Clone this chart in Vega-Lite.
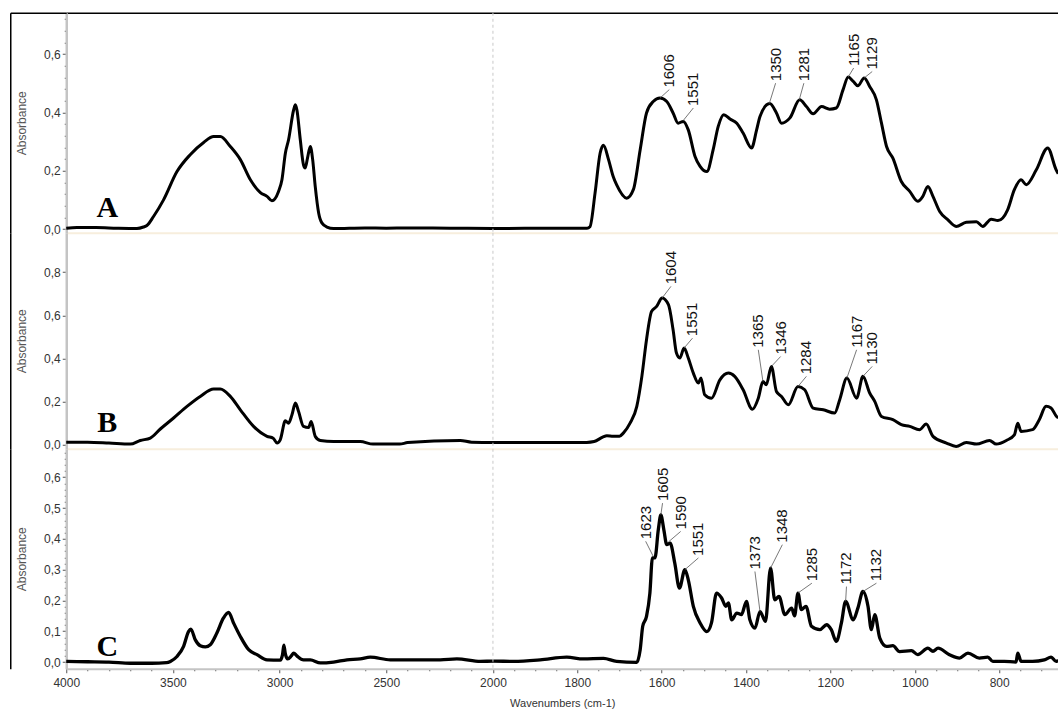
{
  "$schema": "https://vega.github.io/schema/vega-lite/v6.json",
  "autosize": {"type": "pad"},
  "padding": {"left": 9.25, "top": 11.75, "right": 0, "bottom": 0},
  "bounds": "flush",
  "spacing": 0,
  "background": "white",
  "config": {
    "view": {"stroke": null},
    "axis": {
      "labelFont": "Liberation Sans Narrow, Liberation Sans",
      "labelFontSize": 12,
      "labelColor": "#333333",
      "titleFont": "Liberation Sans",
      "titleFontWeight": "normal",
      "grid": false,
      "tickColor": "#555555",
      "domainColor": "#c4c4c4"
    }
  },
  "datasets": {
    "specA": [
      {"wn":4000,"abs":0.003},{"wn":3950,"abs":0.005},{"wn":3860,"abs":0.005},{"wn":3762,"abs":0.003},{"wn":3669,"abs":0.002},{"wn":3638,"abs":0.007},{"wn":3622,"abs":0.012},{"wn":3591,"abs":0.043},{"wn":3544,"abs":0.10},{"wn":3481,"abs":0.197},{"wn":3419,"abs":0.255},{"wn":3356,"abs":0.297},{"wn":3309,"abs":0.317},{"wn":3278,"abs":0.317},{"wn":3231,"abs":0.283},{"wn":3184,"abs":0.238},{"wn":3137,"abs":0.169},{"wn":3090,"abs":0.125},{"wn":3059,"abs":0.112},{"wn":3036,"abs":0.097},{"wn":3005,"abs":0.129},{"wn":2989,"abs":0.169},{"wn":2973,"abs":0.26},{"wn":2958,"abs":0.306},{"wn":2934,"abs":0.409},{"wn":2926,"abs":0.426},{"wn":2919,"abs":0.409},{"wn":2903,"abs":0.306},{"wn":2888,"abs":0.22},{"wn":2880,"abs":0.209},{"wn":2869,"abs":0.244},{"wn":2856,"abs":0.283},{"wn":2845,"abs":0.238},{"wn":2833,"abs":0.146},{"wn":2817,"abs":0.055},{"wn":2802,"abs":0.021},{"wn":2778,"abs":0.007},{"wn":2747,"abs":0.002},{"wn":2600,"abs":0.004},{"wn":2500,"abs":0.003},{"wn":2400,"abs":0.004},{"wn":2200,"abs":0.003},{"wn":2000,"abs":0.002},{"wn":1850,"abs":0.003},{"wn":1777,"abs":0.003},{"wn":1770,"abs":0.008},{"wn":1758,"abs":0.123},{"wn":1746,"abs":0.26},{"wn":1738,"abs":0.287},{"wn":1726,"abs":0.238},{"wn":1715,"abs":0.18},{"wn":1707,"abs":0.152},{"wn":1683,"abs":0.106},{"wn":1667,"abs":0.136},{"wn":1651,"abs":0.272},{"wn":1636,"abs":0.398},{"wn":1620,"abs":0.437},{"wn":1604,"abs":0.449},{"wn":1588,"abs":0.437},{"wn":1573,"abs":0.398},{"wn":1561,"abs":0.363},{"wn":1549,"abs":0.369},{"wn":1537,"abs":0.34},{"wn":1521,"abs":0.249},{"wn":1509,"abs":0.215},{"wn":1493,"abs":0.197},{"wn":1478,"abs":0.272},{"wn":1466,"abs":0.352},{"wn":1453,"abs":0.392},{"wn":1438,"abs":0.377},{"wn":1422,"abs":0.363},{"wn":1407,"abs":0.329},{"wn":1387,"abs":0.278},{"wn":1375,"abs":0.34},{"wn":1367,"abs":0.386},{"wn":1344,"abs":0.43},{"wn":1328,"abs":0.398},{"wn":1316,"abs":0.363},{"wn":1296,"abs":0.381},{"wn":1273,"abs":0.443},{"wn":1257,"abs":0.42},{"wn":1241,"abs":0.395},{"wn":1221,"abs":0.42},{"wn":1202,"abs":0.411},{"wn":1186,"abs":0.415},{"wn":1170,"abs":0.478},{"wn":1158,"abs":0.521},{"wn":1146,"abs":0.506},{"wn":1135,"abs":0.491},{"wn":1120,"abs":0.518},{"wn":1107,"abs":0.489},{"wn":1091,"abs":0.443},{"wn":1079,"abs":0.363},{"wn":1067,"abs":0.283},{"wn":1052,"abs":0.243},{"wn":1032,"abs":0.163},{"wn":1012,"abs":0.129},{"wn":993,"abs":0.095},{"wn":981,"abs":0.112},{"wn":969,"abs":0.146},{"wn":957,"abs":0.112},{"wn":941,"abs":0.06},{"wn":922,"abs":0.032},{"wn":902,"abs":0.009},{"wn":878,"abs":0.023},{"wn":854,"abs":0.025},{"wn":839,"abs":0.009},{"wn":819,"abs":0.034},{"wn":803,"abs":0.029},{"wn":780,"abs":0.066},{"wn":764,"abs":0.135},{"wn":748,"abs":0.169},{"wn":736,"abs":0.152},{"wn":712,"abs":0.203},{"wn":685,"abs":0.278},{"wn":665,"abs":0.203},{"wn":660,"abs":0.19}
    ],
    "specB": [
      {"wn":4000,"abs":0.012},{"wn":3900,"abs":0.012},{"wn":3800,"abs":0.008},{"wn":3700,"abs":0.003},{"wn":3653,"abs":0.02},{"wn":3606,"abs":0.031},{"wn":3559,"abs":0.073},{"wn":3497,"abs":0.124},{"wn":3434,"abs":0.178},{"wn":3372,"abs":0.224},{"wn":3309,"abs":0.258},{"wn":3278,"abs":0.258},{"wn":3231,"abs":0.224},{"wn":3184,"abs":0.162},{"wn":3122,"abs":0.085},{"wn":3059,"abs":0.039},{"wn":3030,"abs":0.03},{"wn":3012,"abs":0.008},{"wn":2997,"abs":0.023},{"wn":2973,"abs":0.111},{"wn":2958,"abs":0.10},{"wn":2942,"abs":0.139},{"wn":2926,"abs":0.193},{"wn":2911,"abs":0.154},{"wn":2888,"abs":0.085},{"wn":2864,"abs":0.08},{"wn":2852,"abs":0.108},{"wn":2833,"abs":0.039},{"wn":2809,"abs":0.02},{"wn":2747,"abs":0.015},{"wn":2622,"abs":0.015},{"wn":2562,"abs":0.003},{"wn":2437,"abs":0.003},{"wn":2400,"abs":0.01},{"wn":2153,"abs":0.02},{"wn":2100,"abs":0.012},{"wn":1999,"abs":0.011},{"wn":1778,"abs":0.011},{"wn":1760,"abs":0.015},{"wn":1740,"abs":0.035},{"wn":1730,"abs":0.042},{"wn":1715,"abs":0.04},{"wn":1700,"abs":0.04},{"wn":1691,"abs":0.054},{"wn":1675,"abs":0.10},{"wn":1659,"abs":0.178},{"wn":1647,"abs":0.317},{"wn":1636,"abs":0.487},{"wn":1624,"abs":0.618},{"wn":1612,"abs":0.641},{"wn":1599,"abs":0.68},{"wn":1584,"abs":0.649},{"wn":1573,"abs":0.533},{"wn":1565,"abs":0.425},{"wn":1557,"abs":0.402},{"wn":1547,"abs":0.448},{"wn":1537,"abs":0.402},{"wn":1525,"abs":0.332},{"wn":1513,"abs":0.286},{"wn":1507,"abs":0.309},{"wn":1498,"abs":0.232},{"wn":1482,"abs":0.216},{"wn":1462,"abs":0.301},{"wn":1442,"abs":0.332},{"wn":1427,"abs":0.317},{"wn":1407,"abs":0.255},{"wn":1385,"abs":0.165},{"wn":1371,"abs":0.216},{"wn":1360,"abs":0.293},{"wn":1352,"abs":0.278},{"wn":1340,"abs":0.363},{"wn":1328,"abs":0.247},{"wn":1316,"abs":0.224},{"wn":1300,"abs":0.185},{"wn":1277,"abs":0.27},{"wn":1261,"abs":0.255},{"wn":1241,"abs":0.17},{"wn":1217,"abs":0.162},{"wn":1190,"abs":0.147},{"wn":1178,"abs":0.209},{"wn":1161,"abs":0.309},{"wn":1138,"abs":0.216},{"wn":1123,"abs":0.317},{"wn":1107,"abs":0.24},{"wn":1095,"abs":0.201},{"wn":1079,"abs":0.131},{"wn":1052,"abs":0.116},{"wn":1032,"abs":0.093},{"wn":1012,"abs":0.085},{"wn":989,"abs":0.07},{"wn":973,"abs":0.096},{"wn":957,"abs":0.039},{"wn":925,"abs":0.008},{"wn":902,"abs":-0.008},{"wn":878,"abs":0.011},{"wn":854,"abs":0.003},{"wn":823,"abs":0.02},{"wn":807,"abs":0.003},{"wn":783,"abs":0.02},{"wn":764,"abs":0.046},{"wn":756,"abs":0.10},{"wn":748,"abs":0.062},{"wn":721,"abs":0.07},{"wn":705,"abs":0.116},{"wn":689,"abs":0.178},{"wn":677,"abs":0.17},{"wn":664,"abs":0.131},{"wn":660,"abs":0.125}
    ],
    "specC": [
      {"wn":4000,"abs":0.002},{"wn":3900,"abs":0.001},{"wn":3800,"abs":0.0},{"wn":3700,"abs":-0.004},{"wn":3600,"abs":-0.004},{"wn":3530,"abs":-0.002},{"wn":3512,"abs":0.002},{"wn":3481,"abs":0.018},{"wn":3450,"abs":0.051},{"wn":3427,"abs":0.099},{"wn":3416,"abs":0.107},{"wn":3395,"abs":0.072},{"wn":3372,"abs":0.053},{"wn":3348,"abs":0.049},{"wn":3325,"abs":0.056},{"wn":3294,"abs":0.094},{"wn":3263,"abs":0.143},{"wn":3239,"abs":0.161},{"wn":3216,"abs":0.127},{"wn":3184,"abs":0.083},{"wn":3145,"abs":0.04},{"wn":3106,"abs":0.024},{"wn":3059,"abs":0.007},{"wn":2997,"abs":0.006},{"wn":2986,"abs":0.025},{"wn":2980,"abs":0.055},{"wn":2974,"abs":0.03},{"wn":2962,"abs":0.01},{"wn":2945,"abs":0.02},{"wn":2934,"abs":0.029},{"wn":2919,"abs":0.02},{"wn":2888,"abs":0.007},{"wn":2856,"abs":0.007},{"wn":2809,"abs":-0.003},{"wn":2747,"abs":0.0},{"wn":2684,"abs":0.007},{"wn":2622,"abs":0.01},{"wn":2575,"abs":0.016},{"wn":2481,"abs":0.007},{"wn":2247,"abs":0.007},{"wn":2169,"abs":0.01},{"wn":2059,"abs":0.002},{"wn":1999,"abs":0.003},{"wn":1951,"abs":0.002},{"wn":1888,"abs":0.007},{"wn":1825,"abs":0.016},{"wn":1786,"abs":0.01},{"wn":1738,"abs":0.012},{"wn":1707,"abs":0.002},{"wn":1659,"abs":-0.001},{"wn":1651,"abs":0.04},{"wn":1645,"abs":0.116},{"wn":1636,"abs":0.148},{"wn":1628,"abs":0.224},{"wn":1622,"abs":0.338},{"wn":1616,"abs":0.338},{"wn":1608,"abs":0.43},{"wn":1602,"abs":0.478},{"wn":1595,"abs":0.43},{"wn":1588,"abs":0.381},{"wn":1580,"abs":0.386},{"wn":1569,"abs":0.321},{"wn":1558,"abs":0.24},{"wn":1545,"abs":0.30},{"wn":1537,"abs":0.267},{"wn":1525,"abs":0.181},{"wn":1509,"abs":0.127},{"wn":1493,"abs":0.099},{"wn":1482,"abs":0.127},{"wn":1470,"abs":0.224},{"wn":1458,"abs":0.208},{"wn":1448,"abs":0.181},{"wn":1442,"abs":0.192},{"wn":1434,"abs":0.137},{"wn":1422,"abs":0.159},{"wn":1411,"abs":0.154},{"wn":1399,"abs":0.197},{"wn":1391,"abs":0.137},{"wn":1379,"abs":0.11},{"wn":1367,"abs":0.164},{"wn":1354,"abs":0.132},{"wn":1342,"abs":0.305},{"wn":1332,"abs":0.202},{"wn":1322,"abs":0.213},{"wn":1308,"abs":0.154},{"wn":1292,"abs":0.175},{"wn":1285,"abs":0.15},{"wn":1277,"abs":0.224},{"wn":1269,"abs":0.17},{"wn":1258,"abs":0.181},{"wn":1245,"abs":0.116},{"wn":1225,"abs":0.105},{"wn":1209,"abs":0.121},{"wn":1198,"abs":0.105},{"wn":1186,"abs":0.067},{"wn":1174,"abs":0.127},{"wn":1164,"abs":0.197},{"wn":1146,"abs":0.137},{"wn":1135,"abs":0.175},{"wn":1123,"abs":0.229},{"wn":1111,"abs":0.181},{"wn":1103,"abs":0.105},{"wn":1095,"abs":0.154},{"wn":1083,"abs":0.078},{"wn":1067,"abs":0.051},{"wn":1052,"abs":0.053},{"wn":1036,"abs":0.034},{"wn":1008,"abs":0.037},{"wn":993,"abs":0.024},{"wn":969,"abs":0.045},{"wn":957,"abs":0.035},{"wn":945,"abs":0.045},{"wn":918,"abs":0.024},{"wn":894,"abs":0.013},{"wn":874,"abs":0.029},{"wn":847,"abs":0.013},{"wn":827,"abs":0.016},{"wn":815,"abs":0.002},{"wn":788,"abs":0.002},{"wn":760,"abs":0.0},{"wn":756,"abs":0.029},{"wn":748,"abs":0.002},{"wn":721,"abs":0.002},{"wn":693,"abs":0.007},{"wn":677,"abs":0.016},{"wn":665,"abs":0.002},{"wn":660,"abs":0.005}
    ],
    "peaksA": [
      {"label":"1606","wn":1604,"abs":0.449,"label_wn":1582,"label_abs":0.478},
      {"label":"1551","wn":1549,"abs":0.372,"label_wn":1525,"label_abs":0.415},
      {"label":"1350","wn":1345,"abs":0.43,"label_wn":1330,"label_abs":0.50},
      {"label":"1281","wn":1274,"abs":0.443,"label_wn":1263,"label_abs":0.50},
      {"label":"1165","wn":1158,"abs":0.521,"label_wn":1145,"label_abs":0.552},
      {"label":"1129","wn":1120,"abs":0.518,"label_wn":1101,"label_abs":0.54}
    ],
    "peaksB": [
      {"label":"1604","wn":1599,"abs":0.68,"label_wn":1578,"label_abs":0.734},
      {"label":"1551","wn":1547,"abs":0.448,"label_wn":1527,"label_abs":0.494},
      {"label":"1365","wn":1360,"abs":0.293,"label_wn":1371,"label_abs":0.44},
      {"label":"1346","wn":1340,"abs":0.363,"label_wn":1318,"label_abs":0.409},
      {"label":"1284","wn":1277,"abs":0.27,"label_wn":1257,"label_abs":0.317},
      {"label":"1167","wn":1161,"abs":0.309,"label_wn":1138,"label_abs":0.44},
      {"label":"1130","wn":1123,"abs":0.317,"label_wn":1101,"label_abs":0.363}
    ],
    "peaksC": [
      {"label":"1623","wn":1620,"abs":0.343,"label_wn":1638,"label_abs":0.392},
      {"label":"1605","wn":1602,"abs":0.478,"label_wn":1598,"label_abs":0.516},
      {"label":"1590","wn":1584,"abs":0.39,"label_wn":1555,"label_abs":0.424},
      {"label":"1551","wn":1545,"abs":0.30,"label_wn":1513,"label_abs":0.338},
      {"label":"1373","wn":1367,"abs":0.164,"label_wn":1379,"label_abs":0.294},
      {"label":"1348","wn":1342,"abs":0.305,"label_wn":1314,"label_abs":0.381},
      {"label":"1285","wn":1277,"abs":0.224,"label_wn":1244,"label_abs":0.256},
      {"label":"1172","wn":1164,"abs":0.197,"label_wn":1162,"label_abs":0.245},
      {"label":"1132","wn":1123,"abs":0.229,"label_wn":1091,"label_abs":0.256}
    ]
  },
  "vconcat": [
    {
      "width": 992,
      "height": 220,
      "resolve": {"axis": {"x": "independent", "y": "independent"}},
      "layer": [
        {
          "data": {"name": "specA"},
          "mark": {"type": "line", "color": "#000000", "strokeWidth": 3, "interpolate": "monotone", "strokeJoin": "round"},
          "encoding": {
            "x": {"field": "wn", "type": "quantitative",
              "scale": {"type": "linear", "domain": [4000, 2000, 660], "range": [0, 426.7, 992], "nice": false, "zero": false},
              "axis": {"orient": "bottom", "domainColor": "#f7eedd", "domainWidth": 2, "ticks": false, "labels": false, "title": null}},
            "y": {"field": "abs", "type": "quantitative",
              "scale": {"domain": [-0.0127, 0.7415], "nice": false, "zero": false},
              "axis": {
                "orient": "left",
                "values": [0,0.04,0.08,0.12,0.16,0.2,0.24,0.28,0.32,0.36,0.4,0.44,0.48,0.52,0.56,0.6,0.64,0.68,0.72],
                "labelExpr": "abs(datum.value*5-round(datum.value*5))<0.001 ? replace(format(datum.value,'.1f'),'.',',') : ''",
                "tickSize": {"condition": {"test": "abs(datum.value*5-round(datum.value*5))<0.001", "value": 4}, "value": 2},
                "labelPadding": 2, "labelOverlap": false, "labelFlush": false,
                "domainWidth": 2.5,
                "title": "Absorbance", "titleFontSize": 12, "titleColor": "#555555", "titlePadding": 15
              }},
            "order": {"field": "wn", "sort": "descending"}
          }
        },
        {
          "data": {"values": [{"wn": 2000}]},
          "mark": {"type": "rule", "color": "#c8c8c8", "strokeDash": [3, 3], "strokeWidth": 1},
          "encoding": {
            "x": {"field": "wn", "type": "quantitative",
              "axis": {"orient": "top", "domainColor": "#000000", "domainWidth": 1.5, "ticks": false, "labels": false, "title": null}}
          }
        },
        {
          "data": {"name": "peaksA"},
          "mark": {"type": "rule", "color": "#555555", "strokeWidth": 0.8},
          "encoding": {
            "x": {"field": "wn", "type": "quantitative", "axis": null},
            "y": {"field": "abs", "type": "quantitative", "axis": null},
            "x2": {"field": "label_wn"},
            "y2": {"field": "label_abs"}
          }
        },
        {
          "data": {"name": "peaksA"},
          "mark": {"type": "text", "angle": 270, "align": "left", "baseline": "middle", "font": "Liberation Sans", "fontSize": 15, "color": "#111111", "yOffset": -2},
          "encoding": {
            "x": {"field": "label_wn", "type": "quantitative", "axis": null},
            "y": {"field": "label_abs", "type": "quantitative", "axis": null},
            "text": {"field": "label"}
          }
        },
        {
          "data": {"values": [{"letter": "A"}]},
          "mark": {"type": "text", "font": "Liberation Serif", "fontWeight": "bold", "fontSize": 30, "align": "center", "baseline": "alphabetic", "color": "#000000"},
          "encoding": {
            "x": {"datum": 3808, "type": "quantitative", "axis": null},
            "y": {"datum": 0.042, "type": "quantitative",
              "axis": {"orient": "left", "offset": 56, "domainColor": "#000000", "domainWidth": 1.5, "values": [0.7415], "ticks": true, "tickSize": -56, "tickColor": "#000000", "tickWidth": 1.5, "labels": false, "title": null}},
            "text": {"field": "letter"}
          }
        }
      ]
    },
    {
      "width": 992,
      "height": 216,
      "resolve": {"axis": {"x": "independent", "y": "independent"}},
      "layer": [
        {
          "data": {"name": "specB"},
          "mark": {"type": "line", "color": "#000000", "strokeWidth": 3, "interpolate": "monotone", "strokeJoin": "round"},
          "encoding": {
            "x": {"field": "wn", "type": "quantitative",
              "scale": {"type": "linear", "domain": [4000, 2000, 660], "range": [0, 426.7, 992], "nice": false, "zero": false},
              "axis": {"orient": "bottom", "domainColor": "#f7eedd", "domainWidth": 2, "ticks": false, "labels": false, "title": null}},
            "y": {"field": "abs", "type": "quantitative",
              "scale": {"domain": [-0.0185, 0.9824], "nice": false, "zero": false},
              "axis": {
                "orient": "left",
                "values": [0,0.2,0.4,0.6,0.8],
                "labelExpr": "replace(format(datum.value,'.1f'),'.',',')",
                "tickSize": 4,
                "labelPadding": 2, "labelOverlap": false, "labelFlush": false,
                "domainWidth": 2.5,
                "title": "Absorbance", "titleFontSize": 12, "titleColor": "#555555", "titlePadding": 15
              }},
            "order": {"field": "wn", "sort": "descending"}
          }
        },
        {
          "data": {"values": [{"wn": 2000}]},
          "mark": {"type": "rule", "color": "#c8c8c8", "strokeDash": [3, 3], "strokeWidth": 1},
          "encoding": {
            "x": {"field": "wn", "type": "quantitative", "axis": null}
          }
        },
        {
          "data": {"name": "peaksB"},
          "mark": {"type": "rule", "color": "#555555", "strokeWidth": 0.8},
          "encoding": {
            "x": {"field": "wn", "type": "quantitative", "axis": null},
            "y": {"field": "abs", "type": "quantitative", "axis": null},
            "x2": {"field": "label_wn"},
            "y2": {"field": "label_abs"}
          }
        },
        {
          "data": {"name": "peaksB"},
          "mark": {"type": "text", "angle": 270, "align": "left", "baseline": "middle", "font": "Liberation Sans", "fontSize": 15, "color": "#111111", "yOffset": -2},
          "encoding": {
            "x": {"field": "label_wn", "type": "quantitative", "axis": null},
            "y": {"field": "label_abs", "type": "quantitative", "axis": null},
            "text": {"field": "label"}
          }
        },
        {
          "data": {"values": [{"letter": "B"}]},
          "mark": {"type": "text", "font": "Liberation Serif", "fontWeight": "bold", "fontSize": 30, "align": "center", "baseline": "alphabetic", "color": "#000000"},
          "encoding": {
            "x": {"datum": 3808, "type": "quantitative", "axis": null},
            "y": {"datum": 0.06, "type": "quantitative",
              "axis": {"orient": "left", "offset": 56, "domainColor": "#000000", "domainWidth": 1.5, "ticks": false, "labels": false, "title": null}},
            "text": {"field": "letter"}
          }
        }
      ]
    },
    {
      "width": 992,
      "height": 220,
      "resolve": {"axis": {"x": "independent", "y": "independent"}},
      "layer": [
        {
          "data": {"name": "specC"},
          "mark": {"type": "line", "color": "#000000", "strokeWidth": 3.3, "interpolate": "monotone", "strokeJoin": "round"},
          "encoding": {
            "x": {"field": "wn", "type": "quantitative",
              "scale": {"type": "linear", "domain": [4000, 2000, 660], "range": [0, 426.7, 992], "nice": false, "zero": false},
              "axis": {
                "orient": "bottom",
                "values": [4000,3900,3800,3700,3600,3500,3400,3300,3200,3100,3000,2900,2800,2700,2600,2500,2400,2300,2200,2100,2000,1950,1900,1850,1800,1750,1700,1650,1600,1550,1500,1450,1400,1350,1300,1250,1200,1150,1100,1050,1000,950,900,850,800,750,700],
                "format": "d",
                "labelExpr": "indexof([4000,3500,3000,2500,2000,1800,1600,1400,1200,1000,800], datum.value) >= 0 ? datum.label : ''",
                "tickSize": {"condition": {"test": "indexof([4000,3500,3000,2500,2000,1800,1600,1400,1200,1000,800], datum.value) >= 0", "value": 4}, "value": 2},
                "labelPadding": 5, "labelOverlap": false, "labelFlush": false,
                "domainWidth": 2,
                "title": "Wavenumbers (cm-1)", "titleFont": "Liberation Sans Narrow, Liberation Sans", "titleFontSize": 11, "titleColor": "#333333", "titlePadding": 9
              }},
            "y": {"field": "abs", "type": "quantitative",
              "scale": {"domain": [-0.0218, 0.6925], "nice": false, "zero": false},
              "axis": {
                "orient": "left",
                "values": [0,0.02,0.04,0.06,0.08,0.1,0.12,0.14,0.16,0.18,0.2,0.22,0.24,0.26,0.28,0.3,0.32,0.34,0.36,0.38,0.4,0.42,0.44,0.46,0.48,0.5,0.52,0.54,0.56,0.58,0.6,0.62,0.64,0.66,0.68],
                "labelExpr": "abs(datum.value*10-round(datum.value*10))<0.001 ? replace(format(datum.value,'.1f'),'.',',') : ''",
                "tickSize": {"condition": {"test": "abs(datum.value*10-round(datum.value*10))<0.001", "value": 4}, "value": 2},
                "labelPadding": 2, "labelOverlap": false, "labelFlush": false,
                "domainWidth": 2.5,
                "title": "Absorbance", "titleFontSize": 12, "titleColor": "#555555", "titlePadding": 15
              }},
            "order": {"field": "wn", "sort": "descending"}
          }
        },
        {
          "data": {"values": [{"wn": 2000}]},
          "mark": {"type": "rule", "color": "#c8c8c8", "strokeDash": [3, 3], "strokeWidth": 1},
          "encoding": {
            "x": {"field": "wn", "type": "quantitative", "axis": null}
          }
        },
        {
          "data": {"name": "peaksC"},
          "mark": {"type": "rule", "color": "#555555", "strokeWidth": 0.8},
          "encoding": {
            "x": {"field": "wn", "type": "quantitative", "axis": null},
            "y": {"field": "abs", "type": "quantitative", "axis": null},
            "x2": {"field": "label_wn"},
            "y2": {"field": "label_abs"}
          }
        },
        {
          "data": {"name": "peaksC"},
          "mark": {"type": "text", "angle": 270, "align": "left", "baseline": "middle", "font": "Liberation Sans", "fontSize": 15, "color": "#111111", "yOffset": -2},
          "encoding": {
            "x": {"field": "label_wn", "type": "quantitative", "axis": null},
            "y": {"field": "label_abs", "type": "quantitative", "axis": null},
            "text": {"field": "label"}
          }
        },
        {
          "data": {"values": [{"letter": "C"}]},
          "mark": {"type": "text", "font": "Liberation Serif", "fontWeight": "bold", "fontSize": 30, "align": "center", "baseline": "alphabetic", "color": "#000000"},
          "encoding": {
            "x": {"datum": 3808, "type": "quantitative", "axis": null},
            "y": {"datum": 0.02, "type": "quantitative",
              "axis": {"orient": "left", "offset": 56, "domainColor": "#000000", "domainWidth": 1.5, "ticks": false, "labels": false, "title": null}},
            "text": {"field": "letter"}
          }
        }
      ]
    }
  ]
}
